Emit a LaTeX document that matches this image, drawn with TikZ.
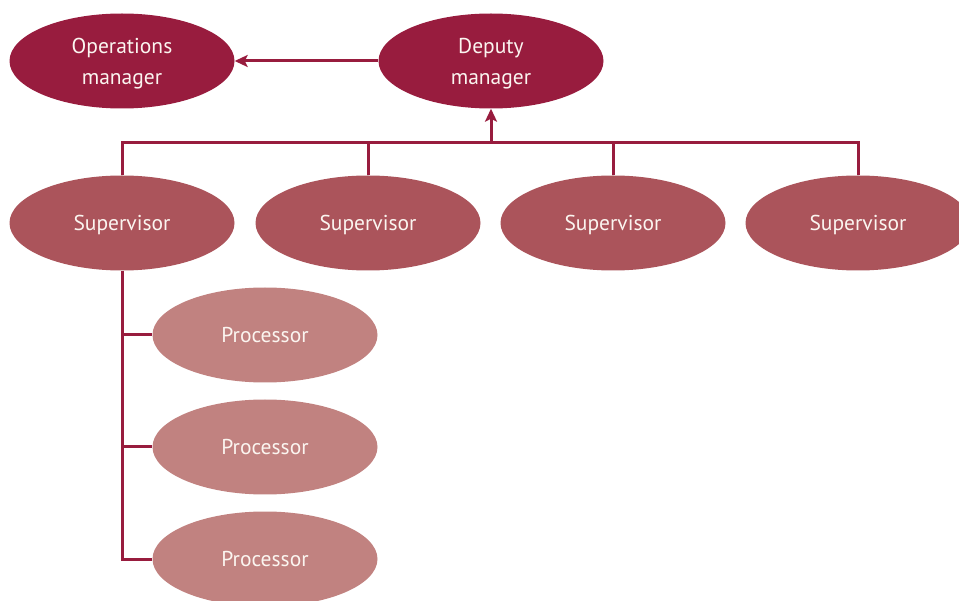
\documentclass[tikz,border=0pt]{standalone}
\usepackage{fontspec}
\setmainfont{PT Sans}
\usetikzlibrary{shapes.geometric,arrows.meta}
\definecolor{mgrred}{HTML}{981C3E}
\definecolor{suprose}{HTML}{AB545B}
\definecolor{procpink}{HTML}{C18280}
\definecolor{linkred}{HTML}{981C3E}
\definecolor{labelwhite}{HTML}{FBF5F0}
\tikzset{
  role/.style={ellipse, inner sep=0pt, minimum width=225pt, minimum height=95pt,
    text=labelwhite, font=\fontsize{21.5}{31}\selectfont, align=center,
    text depth=-3pt},
  manager/.style={role, fill=mgrred},
  supervisor/.style={role, fill=suprose},
  processor/.style={role, fill=procpink},
  link/.style={draw=linkred, line width=3pt},
  arrowlink/.style={link, -{Stealth[length=13pt,width=12pt,inset=3pt]}}
}
\begin{document}
\begin{tikzpicture}[x=1pt,y=-1pt]
  \useasboundingbox (0,0) rectangle (959,601);
  % management level
  \node[manager] (ops) at (122,61) {Operations\\manager};
  \node[manager] (dep) at (491,61) {Deputy\\manager};
  % supervisors
  \node[supervisor] (s1) at (122,223) {Supervisor};
  \node[supervisor] (s2) at (368,223) {Supervisor};
  \node[supervisor] (s3) at (613,223) {Supervisor};
  \node[supervisor] (s4) at (858,223) {Supervisor};
  % processors under the first supervisor
  \node[processor] (p1) at (265,335) {Processor};
  \node[processor] (p2) at (265,447) {Processor};
  \node[processor] (p3) at (265,559) {Processor};
  % bus joining the supervisors
  \coordinate (busl) at (122,143);
  \coordinate (busr) at (858,143);
  \coordinate (busm) at (491,143);
  \draw[link] (s1.north) -- (busl) -- (busr) -- (s4.north);
  \draw[link] (s2.north) -- (s2.north |- busl);
  \draw[link] (s3.north) -- (s3.north |- busl);
  \draw[arrowlink] (busm) -- (dep.south);
  \draw[arrowlink] (dep.west) -- (ops.east);
  % trunk to the processors
  \draw[link] (s1.south) -- (s1.south |- p3.west) -- (p3.west);
  \draw[link] (s1.south |- p1.west) -- (p1.west);
  \draw[link] (s1.south |- p2.west) -- (p2.west);
\end{tikzpicture}
\end{document}
